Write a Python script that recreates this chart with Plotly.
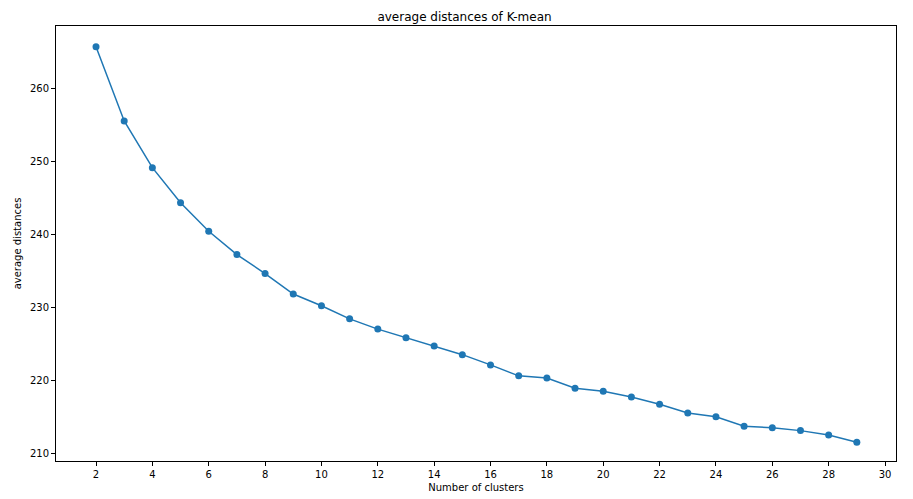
import plotly.graph_objects as go

clusters = list(range(2, 30))
distances = [265.75, 255.6, 249.2, 244.4, 240.5, 237.3, 234.7, 231.9, 230.3, 228.5,
             227.1, 225.9, 224.8, 223.6, 222.2, 220.7, 220.4, 219.0, 218.6, 217.8,
             216.8, 215.6, 215.1, 213.8, 213.6, 213.2, 212.6, 211.6]
x_ticks = list(range(2, 31, 2))
y_ticks = [210, 220, 230, 240, 250, 260]

fig = go.Figure(go.Scatter(x=clusters, y=distances, mode="lines+markers",
                           line=dict(color="#1f77b4", width=1.5),
                           marker=dict(color="#1f77b4", size=7)))
ax = dict(showline=True, linecolor="black", linewidth=1, mirror=True, ticks="outside",
          ticklen=4, tickcolor="black", showgrid=False, zeroline=False, automargin=False,
          tickfont=dict(size=10, color="black"))
fig.update_layout(
    width=913, height=499, margin=dict(l=48, r=25, t=18, b=46, autoexpand=False),
    paper_bgcolor="white", plot_bgcolor="white",
    font=dict(family="DejaVu Sans", color="black", size=10),
    title=dict(text="average distances of K-mean", x=0.5, xanchor="center", y=0.99,
               yanchor="top", font=dict(size=12), automargin=False),
    xaxis=dict(ax, range=[0.58, 30.39], tickvals=x_ticks,
               title=dict(text="Number of clusters", standoff=4, font=dict(size=10))),
    yaxis=dict(ax, range=[209.04, 268.6], tickvals=y_ticks,
               title=dict(text="average distances", standoff=6, font=dict(size=10))),
    showlegend=False,
)
fig.write_html("out.html")
